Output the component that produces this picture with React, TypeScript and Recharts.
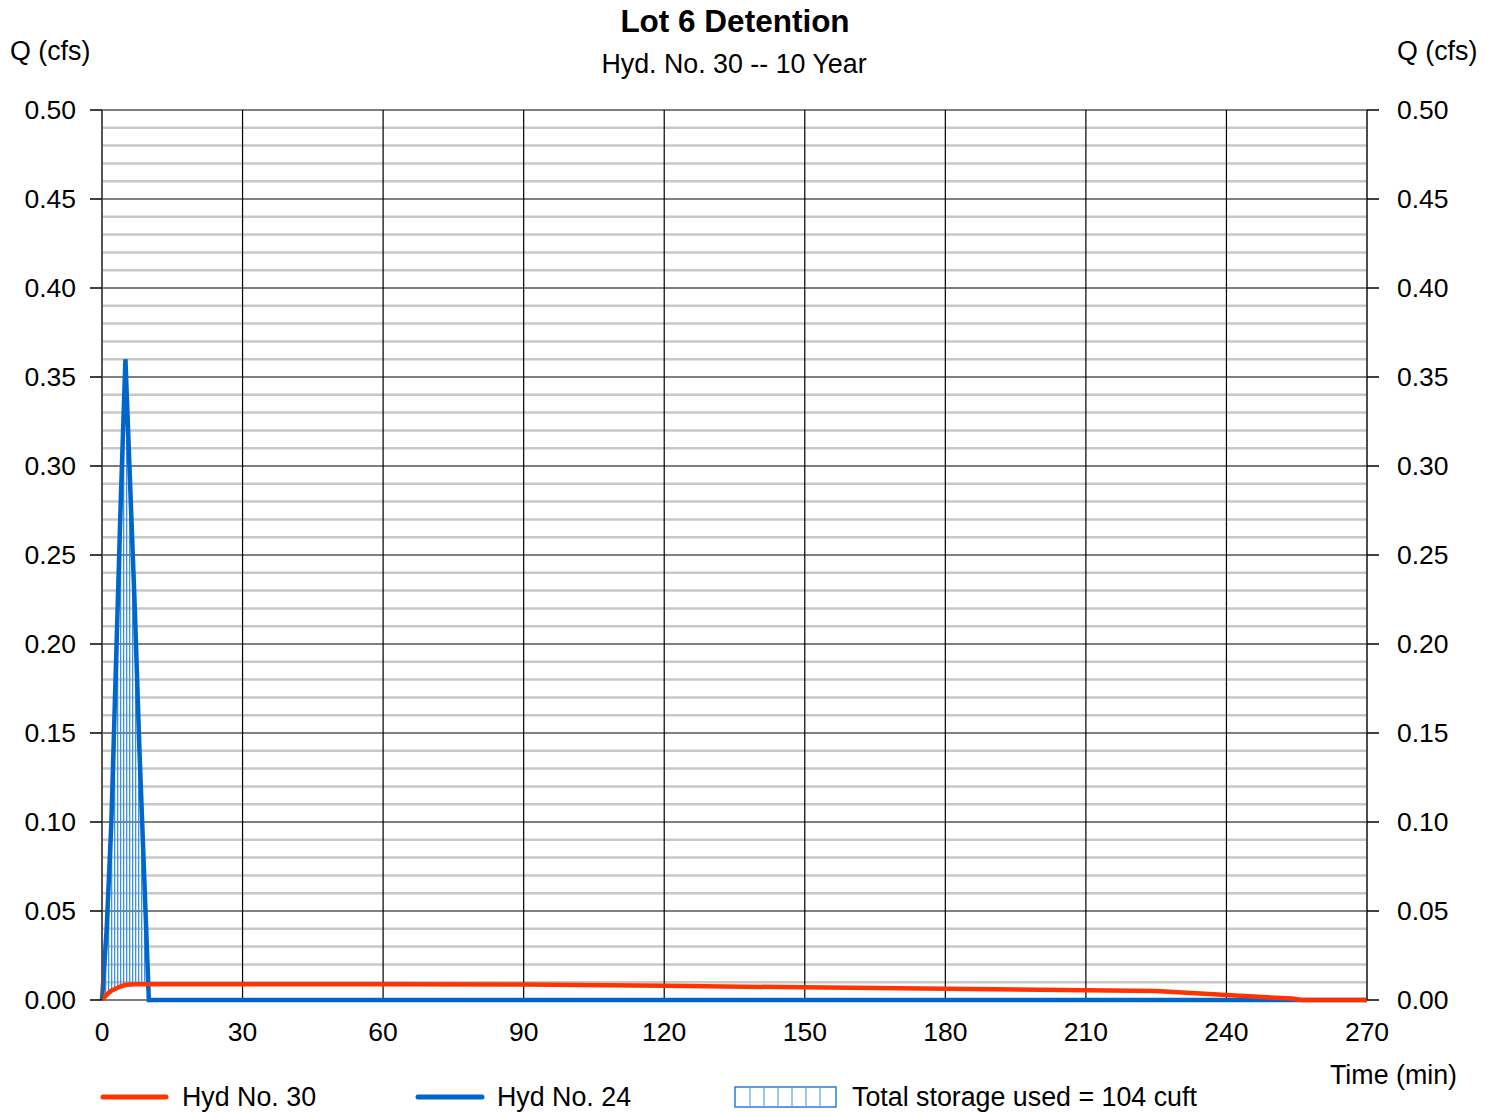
import React from 'react';
import { ComposedChart, Line, Area, XAxis, YAxis, CartesianGrid } from 'recharts';

// Inflow hydrograph (Hyd No. 24), time in min, Q in cfs
const inflowTime = [0, 1, 2, 3, 4, 5, 6, 7, 8, 9, 10, 270];
const inflowQ = [0, 0.04, 0.1, 0.19, 0.28, 0.36, 0.29, 0.22, 0.14, 0.07, 0, 0];

// Outflow hydrograph (Hyd No. 30)
const outflowTime = [0, 1, 2, 3, 4, 5, 6, 7, 8, 9, 10, 30, 60, 90, 120, 150, 180, 210, 225, 240, 254, 256, 270];
const outflowQ = [0, 0.003, 0.0052, 0.0065, 0.0076, 0.0084, 0.0087, 0.0088, 0.0088, 0.0088, 0.0088, 0.0088, 0.0088, 0.0087, 0.008, 0.0071, 0.0063, 0.0055, 0.0051, 0.0028, 0.0008, 0, 0];

const xTicks = [0, 30, 60, 90, 120, 150, 180, 210, 240, 270];
const yTicks = [0, 0.05, 0.1, 0.15, 0.2, 0.25, 0.3, 0.35, 0.4, 0.45, 0.5];

const FONT = '"Liberation Sans", Arial, sans-serif';
const BLUE = '#0066cc';
const ORANGE = '#ff3300';

const inflowData = inflowTime.map((t, i) => ({ t, q: inflowQ[i] }));
const outflowData = outflowTime.map((t, i) => ({ t, q: outflowQ[i] }));

// storage = area between inflow and outflow while inflow is above outflow
const storageData = inflowTime
  .map((t, i) => {
    const j = outflowTime.indexOf(t);
    return { t, range: [outflowQ[j], inflowQ[i]] };
  })
  .filter((d) => d.t <= 10);

// minor gridlines every 0.01
const minorY: number[] = [];
for (let i = 1; i < 50; i++) {
  if (i % 5 !== 0) minorY.push(i / 100);
}

const tickStyle = { fontSize: 26.5, fill: '#000', fontFamily: FONT };

export default function App() {
  return (
    <div style={{ position: 'absolute', left: 0, top: 0, width: 1494, height: 1112, background: '#fff', fontFamily: FONT }}>
      <ComposedChart width={1494} height={1112} margin={{ top: 110, right: 0, bottom: 0, left: 0 }}>
        <defs>
          <pattern id="hatch" width="3" height="10" patternUnits="userSpaceOnUse">
            <rect x="0" y="0" width="1.3" height="10" fill="#3d93e3" />
          </pattern>
        </defs>
        <XAxis
          dataKey="t"
          type="number"
          domain={[0, 270]}
          ticks={xTicks}
          interval={0}
          height={112}
          tickLine={false}
          axisLine={false}
          tickSize={0}
          tickMargin={22}
          tick={tickStyle}
          allowDuplicatedCategory={false}
        />
        <YAxis
          yAxisId="left"
          width={102}
          domain={[0, 0.5]}
          ticks={yTicks}
          interval={0}
          tickFormatter={(v: number) => v.toFixed(2)}
          tickSize={12}
          tickMargin={14}
          tick={tickStyle}
          tickLine={{ stroke: '#000', strokeWidth: 1.5 }}
          axisLine={{ stroke: '#555', strokeWidth: 2 }}
        />
        <YAxis
          yAxisId="right"
          orientation="right"
          width={127}
          domain={[0, 0.5]}
          ticks={yTicks}
          interval={0}
          tickFormatter={(v: number) => v.toFixed(2)}
          tickSize={12}
          tickMargin={18}
          tick={tickStyle}
          tickLine={{ stroke: '#000', strokeWidth: 1.5 }}
          axisLine={{ stroke: '#444', strokeWidth: 1.5 }}
        />
        <CartesianGrid yAxisId="left" vertical={false} horizontalValues={minorY} stroke="#c8c8c8" strokeWidth={2.5} />
        <CartesianGrid yAxisId="left" horizontalValues={yTicks} verticalValues={xTicks} stroke="#000" strokeWidth={1.2} />
        <Area
          yAxisId="left"
          data={storageData}
          dataKey="range"
          type="linear"
          stroke="none"
          fill="url(#hatch)"
          fillOpacity={1}
          isAnimationActive={false}
        />
        <Line yAxisId="right" data={outflowData} dataKey="q" stroke="none" strokeWidth={0} dot={false} isAnimationActive={false} legendType="none" />
        <Line yAxisId="left" data={inflowData} dataKey="q" type="linear" stroke={BLUE} strokeWidth={4.5} dot={false} isAnimationActive={false} />
        <Line yAxisId="left" data={outflowData} dataKey="q" type="linear" stroke={ORANGE} strokeWidth={4.5} dot={false} isAnimationActive={false} />
      </ComposedChart>

      <svg width={1494} height={1112} style={{ position: 'absolute', left: 0, top: 0, pointerEvents: 'none' }} fontFamily={FONT}>
        <text x={735} y={32} textAnchor="middle" fontSize={31.5} fontWeight="bold">Lot 6 Detention</text>
        <text x={734} y={73} textAnchor="middle" fontSize={26.8}>Hyd. No. 30 -- 10 Year</text>
        <text x={10} y={60} fontSize={26.8}>Q (cfs)</text>
        <text x={1397} y={60} fontSize={26.8}>Q (cfs)</text>
        <text x={1330} y={1084} fontSize={26.8}>Time (min)</text>

        {/* legend */}
        <line x1={103} y1={1097} x2={166} y2={1097} stroke={ORANGE} strokeWidth={5} strokeLinecap="round" />
        <text x={182} y={1106} fontSize={26.8}>Hyd No. 30</text>
        <line x1={418} y1={1097} x2={482} y2={1097} stroke={BLUE} strokeWidth={5} strokeLinecap="round" />
        <text x={497} y={1106} fontSize={26.8}>Hyd No. 24</text>
        <rect x={735} y={1087} width={101} height={20} fill="none" stroke="#2a7fd6" strokeWidth={1.5} />
        {[750, 764, 778, 792, 806, 820].map((x) => (
          <line key={x} x1={x} y1={1087} x2={x} y2={1107} stroke="#5aa5ea" strokeWidth={1.2} />
        ))}
        <text x={852} y={1106} fontSize={26.8}>Total storage used = 104 cuft</text>
      </svg>
    </div>
  );
}
